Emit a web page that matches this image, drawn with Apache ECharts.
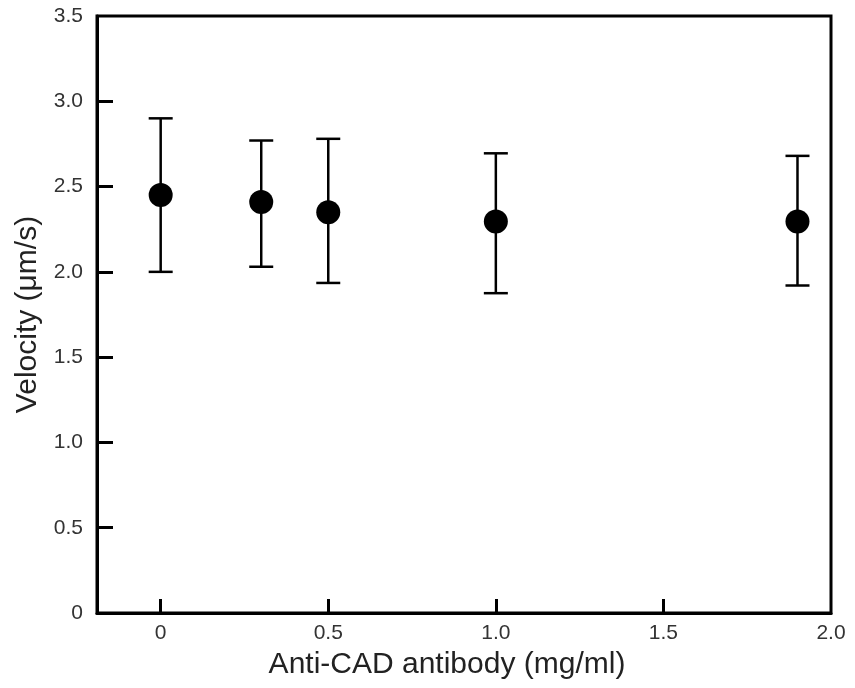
<!DOCTYPE html>
<html>
<head>
<meta charset="utf-8">
<script src="https://cdn.jsdelivr.net/npm/echarts@6/dist/echarts.min.js"></script>
<style>html,body{margin:0;padding:0;background:#fff}#c{width:855px;height:688px}</style>
</head>
<body>
<div id="c"></div>
<script>
const concentrations = [0, 0.3, 0.5, 1.0, 1.9];
const velocity = [2.45, 2.41, 2.35, 2.295, 2.295];
const errLow = [2.00, 2.03, 1.935, 1.875, 1.92];
const errHigh = [2.90, 2.77, 2.78, 2.695, 2.68];
const xTicks = [0, 0.5, 1.0, 1.5, 2.0];
const yTicks = [0, 0.5, 1.0, 1.5, 2.0, 2.5, 3.0, 3.5];

const FONT = "'Liberation Sans', Arial, sans-serif";
const fmt = v => (v === 0 ? '0' : v.toFixed(1));

const chart = echarts.init(document.getElementById('c'), null, {renderer: 'canvas'});
chart.setOption({
  animation: false,
  backgroundColor: '#fff',
  grid: {left: 97, right: 24, top: 16, bottom: 75, show: true, borderColor: '#000', borderWidth: 3, backgroundColor: 'transparent'},
  xAxis: {
    type: 'value', min: -0.19, max: 2.0,
    name: 'Anti-CAD antibody (mg/ml)', nameLocation: 'middle', nameGap: 37,
    nameTextStyle: {fontFamily: FONT, fontSize: 30, color: '#222', padding: [0, 34, 0, 0]},
    axisLine: {show: true, onZero: false, lineStyle: {color: '#000', width: 3}},
    axisTick: {show: true, inside: true, length: 14, lineStyle: {color: '#000', width: 3}, customValues: xTicks.slice(0, 4)},
    axisLabel: {customValues: xTicks, formatter: fmt, fontFamily: FONT, fontSize: 21, color: '#333', margin: 10},
    splitLine: {show: false}
  },
  yAxis: {
    type: 'value', min: 0, max: 3.5,
    name: 'Velocity (μm/s)', nameLocation: 'middle', nameGap: 54,
    nameTextStyle: {fontFamily: FONT, fontSize: 30, color: '#222'},
    axisLine: {show: true, onZero: false, lineStyle: {color: '#000', width: 3}},
    axisTick: {show: true, inside: true, length: 16, lineStyle: {color: '#000', width: 3}, customValues: yTicks.slice(1, 7)},
    axisLabel: {customValues: yTicks, formatter: fmt, fontFamily: FONT, fontSize: 21, color: '#333', margin: 14},
    splitLine: {show: false}
  },
  series: [
    {
      type: 'custom',
      data: concentrations.map((x, i) => [x, errLow[i], errHigh[i]]),
      renderItem: function (params, api) {
        const x = api.value(0);
        const lo = api.coord([x, api.value(1)]);
        const hi = api.coord([x, api.value(2)]);
        const cap = 12;
        const style = {stroke: '#000', lineWidth: 2.5};
        return {
          type: 'group',
          children: [
            {type: 'line', shape: {x1: lo[0], y1: lo[1], x2: hi[0], y2: hi[1]}, style: style},
            {type: 'line', shape: {x1: lo[0] - cap, y1: lo[1], x2: lo[0] + cap, y2: lo[1]}, style: style},
            {type: 'line', shape: {x1: hi[0] - cap, y1: hi[1], x2: hi[0] + cap, y2: hi[1]}, style: style}
          ]
        };
      },
      z: 2
    },
    {
      type: 'scatter',
      data: concentrations.map((x, i) => [x, velocity[i]]),
      symbol: 'circle', symbolSize: 24,
      itemStyle: {color: '#000', opacity: 1},
      z: 3
    }
  ]
});
</script>
</body>
</html>
